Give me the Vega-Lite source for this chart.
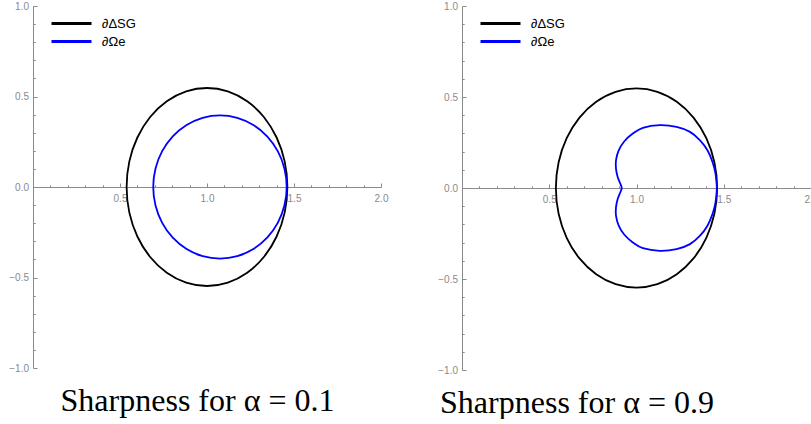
{
  "$schema": "https://vega.github.io/schema/vega-lite/v6.json",
  "background": "white",
  "padding": {"left": 8, "top": 1, "right": -7, "bottom": 0},
  "config": {
    "view": {"stroke": null},
    "concat": {"spacing": 49},
    "axis": {"grid": false, "title": null, "domainColor": "#8a8a8a", "tickColor": "#8a8a8a", "labelColor": "#8a8a8a", "labelFont": "Liberation Sans", "labelFontSize": 10, "labelOverlap": false, "labelFlush": false, "labelBound": false, "domainWidth": 1, "tickWidth": 1},
    "title": {"font": "Liberation Serif", "fontSize": 32, "fontWeight": "normal", "color": "#000000"},
    "legend": {"orient": "none", "legendX": 32, "legendY": 11, "title": null, "symbolType": "M-4,0H4", "symbolSize": 100, "symbolStrokeWidth": 3, "labelFont": "Liberation Sans", "labelFontSize": 13, "labelColor": "#000000", "labelOffset": 24, "rowPadding": 4, "padding": 0}
  },
  "resolve": {"legend": {"color": "independent"}},
  "datasets": {
    "curves": [
      {"panel": "both", "curve": "∂ΔSG", "i": 0, "x": 1.462, "y": 0},
      {"panel": "both", "curve": "∂ΔSG", "i": 1, "x": 1.4463, "y": 0.1416},
      {"panel": "both", "curve": "∂ΔSG", "i": 2, "x": 1.4001, "y": 0.2735},
      {"panel": "both", "curve": "∂ΔSG", "i": 3, "x": 1.3267, "y": 0.3868},
      {"panel": "both", "curve": "∂ΔSG", "i": 4, "x": 1.231, "y": 0.4737},
      {"panel": "both", "curve": "∂ΔSG", "i": 5, "x": 1.1196, "y": 0.5284},
      {"panel": "both", "curve": "∂ΔSG", "i": 6, "x": 1.0, "y": 0.547},
      {"panel": "both", "curve": "∂ΔSG", "i": 7, "x": 0.8804, "y": 0.5284},
      {"panel": "both", "curve": "∂ΔSG", "i": 8, "x": 0.769, "y": 0.4737},
      {"panel": "both", "curve": "∂ΔSG", "i": 9, "x": 0.6733, "y": 0.3868},
      {"panel": "both", "curve": "∂ΔSG", "i": 10, "x": 0.5999, "y": 0.2735},
      {"panel": "both", "curve": "∂ΔSG", "i": 11, "x": 0.5537, "y": 0.1416},
      {"panel": "both", "curve": "∂ΔSG", "i": 12, "x": 0.538, "y": 0},
      {"panel": "both", "curve": "∂ΔSG", "i": 13, "x": 0.5537, "y": -0.1416},
      {"panel": "both", "curve": "∂ΔSG", "i": 14, "x": 0.5999, "y": -0.2735},
      {"panel": "both", "curve": "∂ΔSG", "i": 15, "x": 0.6733, "y": -0.3868},
      {"panel": "both", "curve": "∂ΔSG", "i": 16, "x": 0.769, "y": -0.4737},
      {"panel": "both", "curve": "∂ΔSG", "i": 17, "x": 0.8804, "y": -0.5284},
      {"panel": "both", "curve": "∂ΔSG", "i": 18, "x": 1.0, "y": -0.547},
      {"panel": "both", "curve": "∂ΔSG", "i": 19, "x": 1.1196, "y": -0.5284},
      {"panel": "both", "curve": "∂ΔSG", "i": 20, "x": 1.231, "y": -0.4737},
      {"panel": "both", "curve": "∂ΔSG", "i": 21, "x": 1.3267, "y": -0.3868},
      {"panel": "both", "curve": "∂ΔSG", "i": 22, "x": 1.4001, "y": -0.2735},
      {"panel": "both", "curve": "∂ΔSG", "i": 23, "x": 1.4463, "y": -0.1416},
      {"panel": "a", "curve": "∂Ωe", "i": 0, "x": 1.458, "y": 0},
      {"panel": "a", "curve": "∂Ωe", "i": 1, "x": 1.4449, "y": 0.1025},
      {"panel": "a", "curve": "∂Ωe", "i": 2, "x": 1.4066, "y": 0.198},
      {"panel": "a", "curve": "∂Ωe", "i": 3, "x": 1.3457, "y": 0.28},
      {"panel": "a", "curve": "∂Ωe", "i": 4, "x": 1.2663, "y": 0.3429},
      {"panel": "a", "curve": "∂Ωe", "i": 5, "x": 1.1738, "y": 0.3825},
      {"panel": "a", "curve": "∂Ωe", "i": 6, "x": 1.0745, "y": 0.396},
      {"panel": "a", "curve": "∂Ωe", "i": 7, "x": 0.9752, "y": 0.3825},
      {"panel": "a", "curve": "∂Ωe", "i": 8, "x": 0.8827, "y": 0.3429},
      {"panel": "a", "curve": "∂Ωe", "i": 9, "x": 0.8033, "y": 0.28},
      {"panel": "a", "curve": "∂Ωe", "i": 10, "x": 0.7424, "y": 0.198},
      {"panel": "a", "curve": "∂Ωe", "i": 11, "x": 0.7041, "y": 0.1025},
      {"panel": "a", "curve": "∂Ωe", "i": 12, "x": 0.691, "y": 0},
      {"panel": "a", "curve": "∂Ωe", "i": 13, "x": 0.7041, "y": -0.1025},
      {"panel": "a", "curve": "∂Ωe", "i": 14, "x": 0.7424, "y": -0.198},
      {"panel": "a", "curve": "∂Ωe", "i": 15, "x": 0.8033, "y": -0.28},
      {"panel": "a", "curve": "∂Ωe", "i": 16, "x": 0.8827, "y": -0.3429},
      {"panel": "a", "curve": "∂Ωe", "i": 17, "x": 0.9752, "y": -0.3825},
      {"panel": "a", "curve": "∂Ωe", "i": 18, "x": 1.0745, "y": -0.396},
      {"panel": "a", "curve": "∂Ωe", "i": 19, "x": 1.1738, "y": -0.3825},
      {"panel": "a", "curve": "∂Ωe", "i": 20, "x": 1.2663, "y": -0.3429},
      {"panel": "a", "curve": "∂Ωe", "i": 21, "x": 1.3457, "y": -0.28},
      {"panel": "a", "curve": "∂Ωe", "i": 22, "x": 1.4066, "y": -0.198},
      {"panel": "a", "curve": "∂Ωe", "i": 23, "x": 1.4449, "y": -0.1025},
      {"panel": "b", "curve": "∂Ωe", "i": 0, "x": 1.4605, "y": 0},
      {"panel": "b", "curve": "∂Ωe", "i": 1, "x": 1.4528, "y": 0.0788},
      {"panel": "b", "curve": "∂Ωe", "i": 2, "x": 1.4355, "y": 0.1433},
      {"panel": "b", "curve": "∂Ωe", "i": 3, "x": 1.4066, "y": 0.2072},
      {"panel": "b", "curve": "∂Ωe", "i": 4, "x": 1.3642, "y": 0.2623},
      {"panel": "b", "curve": "∂Ωe", "i": 5, "x": 1.3064, "y": 0.3085},
      {"panel": "b", "curve": "∂Ωe", "i": 6, "x": 1.2293, "y": 0.336},
      {"panel": "b", "curve": "∂Ωe", "i": 7, "x": 1.133, "y": 0.345},
      {"panel": "b", "curve": "∂Ωe", "i": 8, "x": 1.0366, "y": 0.3306},
      {"panel": "b", "curve": "∂Ωe", "i": 9, "x": 0.9788, "y": 0.299},
      {"panel": "b", "curve": "∂Ωe", "i": 10, "x": 0.9306, "y": 0.257},
      {"panel": "b", "curve": "∂Ωe", "i": 11, "x": 0.8979, "y": 0.2072},
      {"panel": "b", "curve": "∂Ωe", "i": 12, "x": 0.8824, "y": 0.1521},
      {"panel": "b", "curve": "∂Ωe", "i": 13, "x": 0.8824, "y": 0.1063},
      {"panel": "b", "curve": "∂Ωe", "i": 14, "x": 0.8921, "y": 0.0606},
      {"panel": "b", "curve": "∂Ωe", "i": 15, "x": 0.9075, "y": 0.0237},
      {"panel": "b", "curve": "∂Ωe", "i": 16, "x": 0.9152, "y": 0},
      {"panel": "b", "curve": "∂Ωe", "i": 17, "x": 0.9075, "y": -0.0237},
      {"panel": "b", "curve": "∂Ωe", "i": 18, "x": 0.8921, "y": -0.0606},
      {"panel": "b", "curve": "∂Ωe", "i": 19, "x": 0.8824, "y": -0.1063},
      {"panel": "b", "curve": "∂Ωe", "i": 20, "x": 0.8824, "y": -0.1521},
      {"panel": "b", "curve": "∂Ωe", "i": 21, "x": 0.8979, "y": -0.2072},
      {"panel": "b", "curve": "∂Ωe", "i": 22, "x": 0.9306, "y": -0.257},
      {"panel": "b", "curve": "∂Ωe", "i": 23, "x": 0.9788, "y": -0.299},
      {"panel": "b", "curve": "∂Ωe", "i": 24, "x": 1.0366, "y": -0.3306},
      {"panel": "b", "curve": "∂Ωe", "i": 25, "x": 1.133, "y": -0.345},
      {"panel": "b", "curve": "∂Ωe", "i": 26, "x": 1.2293, "y": -0.336},
      {"panel": "b", "curve": "∂Ωe", "i": 27, "x": 1.3064, "y": -0.3085},
      {"panel": "b", "curve": "∂Ωe", "i": 28, "x": 1.3642, "y": -0.2623},
      {"panel": "b", "curve": "∂Ωe", "i": 29, "x": 1.4066, "y": -0.2072},
      {"panel": "b", "curve": "∂Ωe", "i": 30, "x": 1.4355, "y": -0.1433},
      {"panel": "b", "curve": "∂Ωe", "i": 31, "x": 1.4528, "y": -0.0788}
    ]
  },
  "hconcat": [
    {
      "width": 348,
      "height": 362,
      "title": {"text": "Sharpness for α = 0.1", "orient": "bottom", "anchor": "middle", "dx": -9.5, "offset": 13},
      "data": {"name": "curves"},
      "transform": [{"filter": "datum.panel === 'both' || datum.panel === 'a'"}],
      "mark": {"type": "line", "interpolate": "cardinal-closed", "strokeWidth": 1.8},
      "encoding": {
        "x": {"field": "x", "type": "quantitative", "scale": {"domain": [0, 2], "nice": false, "zero": false},
          "axis": {"orient": "bottom", "offset": -181, "values": [0.1, 0.2, 0.3, 0.4, 0.5, 0.6, 0.7, 0.8, 0.9, 1.0, 1.1, 1.2, 1.3, 1.4, 1.5, 1.6, 1.7, 1.8, 1.9, 2.0],
            "labelExpr": "datum.value % 0.5 === 0 ? format(datum.value, '.1f') : ''",
            "tickSize": {"condition": {"test": "datum.value % 0.5 === 0", "value": -4}, "value": -2.2},
            "labelPadding": 10}},
        "y": {"field": "y", "type": "quantitative", "scale": {"domain": [-1, 1], "nice": false, "zero": false},
          "axis": {"orient": "left", "values": [-1.0, -0.9, -0.8, -0.7, -0.6, -0.5, -0.4, -0.3, -0.2, -0.1, 0.0, 0.1, 0.2, 0.3, 0.4, 0.5, 0.6, 0.7, 0.8, 0.9, 1.0],
            "labelExpr": "datum.value % 0.5 === 0 ? format(datum.value, '.1f') : ''",
            "tickSize": {"condition": {"test": "datum.value % 0.5 === 0", "value": -4}, "value": -2.2},
            "labelPadding": 8.5}},
        "order": {"field": "i", "type": "quantitative"},
        "color": {"field": "curve", "type": "nominal", "scale": {"domain": ["∂ΔSG", "∂Ωe"], "range": ["#000000", "#0000ff"]}}
      }
    },
    {
      "width": 349,
      "height": 364,
      "title": {"text": "Sharpness for α = 0.9", "orient": "bottom", "anchor": "middle", "dx": -59.5, "offset": 13},
      "data": {"name": "curves"},
      "transform": [{"filter": "datum.panel === 'both' || datum.panel === 'b'"}],
      "mark": {"type": "line", "interpolate": "cardinal-closed", "strokeWidth": 1.8},
      "encoding": {
        "x": {"field": "x", "type": "quantitative", "scale": {"domain": [0, 2], "nice": false, "zero": false},
          "axis": {"orient": "bottom", "offset": -182, "values": [0.1, 0.2, 0.3, 0.4, 0.5, 0.6, 0.7, 0.8, 0.9, 1.0, 1.1, 1.2, 1.3, 1.4, 1.5, 1.6, 1.7, 1.8, 1.9, 2.0],
            "labelExpr": "datum.value % 0.5 === 0 ? format(datum.value, '.1f') : ''",
            "tickSize": {"condition": {"test": "datum.value % 0.5 === 0", "value": -4}, "value": -2.2},
            "labelPadding": 10}},
        "y": {"field": "y", "type": "quantitative", "scale": {"domain": [-1, 1], "nice": false, "zero": false},
          "axis": {"orient": "left", "values": [-1.0, -0.9, -0.8, -0.7, -0.6, -0.5, -0.4, -0.3, -0.2, -0.1, 0.0, 0.1, 0.2, 0.3, 0.4, 0.5, 0.6, 0.7, 0.8, 0.9, 1.0],
            "labelExpr": "datum.value % 0.5 === 0 ? format(datum.value, '.1f') : ''",
            "tickSize": {"condition": {"test": "datum.value % 0.5 === 0", "value": -4}, "value": -2.2},
            "labelPadding": 8.5}},
        "order": {"field": "i", "type": "quantitative"},
        "color": {"field": "curve", "type": "nominal", "scale": {"domain": ["∂ΔSG", "∂Ωe"], "range": ["#000000", "#0000ff"]}}
      }
    }
  ]
}
